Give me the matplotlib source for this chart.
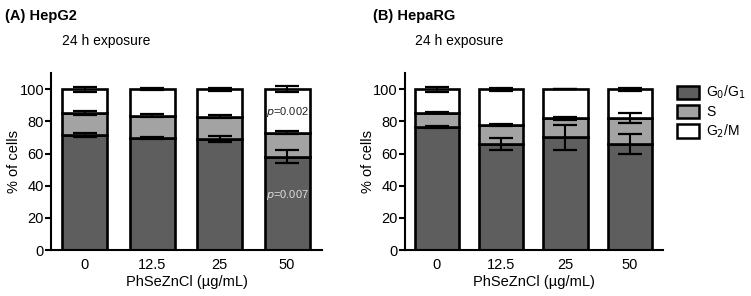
import numpy as np
import matplotlib.pyplot as plt
from matplotlib.patches import Patch

plt.rcParams['font.family'] = ['Liberation Sans', 'DejaVu Sans']

doses = ['0', '12.5', '25', '50']

# HepG2 (% of cells)
g0_a = [71.5, 69.8, 69.2, 58.0]
s_a = [13.7, 13.7, 13.8, 15.0]
g2_a = [14.8, 16.5, 17.0, 27.0]
g0_err_a = [1.0, 0.6, 2.0, 4.0]
s_err_a = [1.0, 0.8, 0.8, 1.0]
g2_err_a = [1.5, 0.8, 1.0, 2.0]

# HepaRG (% of cells)
g0_b = [76.5, 65.9, 70.0, 65.9]
s_b = [9.0, 12.0, 12.0, 16.1]
g2_b = [14.5, 22.1, 18.0, 18.0]
g0_err_b = [0.5, 3.8, 7.6, 6.0]
s_err_b = [0.3, 0.5, 1.0, 3.0]
g2_err_b = [1.5, 1.0, 0.0, 1.0]

c_g0 = '#5e5e5e'
c_s = '#a3a3a3'
c_g2 = '#ffffff'

fig = plt.figure(figsize=(7.51, 2.96), dpi=100)
ax_a = fig.add_axes([0.068, 0.155, 0.361, 0.598])
ax_b = fig.add_axes([0.539, 0.155, 0.344, 0.598])


def draw_panel(ax, g0, s, g2, e0, es, e2, width):
    x = np.arange(len(doses))
    g0 = np.array(g0)
    s = np.array(s)
    g2 = np.array(g2)
    kw = dict(width=width, edgecolor='black', linewidth=1.9, zorder=2)
    ax.bar(x, g0, color=c_g0, **kw)
    ax.bar(x, s, bottom=g0, color=c_s, **kw)
    ax.bar(x, g2, bottom=g0 + s, color=c_g2, **kw)
    ekw = dict(fmt='none', ecolor='black', elinewidth=1.5, capsize=8.5,
               capthick=1.6, zorder=3)
    ax.errorbar(x, g0, yerr=e0, **ekw)
    ax.errorbar(x, g0 + s, yerr=es, **ekw)
    ax.errorbar(x, g0 + s + g2, yerr=e2, **ekw)
    ax.set_ylim(0, 110)
    ax.set_xlim(-0.5, 3.52)
    ax.set_yticks([0, 20, 40, 60, 80, 100])
    ax.set_xticks(x)
    ax.set_xticklabels(doses)
    for side in ['top', 'right']:
        ax.spines[side].set_visible(False)
    for side in ['left', 'bottom']:
        ax.spines[side].set_linewidth(1.5)
    ax.tick_params(axis='y', labelsize=10.5, width=1.5, length=4, pad=1)
    ax.tick_params(axis='x', labelsize=10.5, length=0, pad=6)
    ax.set_ylabel('% of cells', fontsize=10.5, labelpad=-1)
    ax.set_xlabel('PhSeZnCl (µg/mL)', fontsize=10.5, labelpad=2)
    ax.text(0.04, 1.18, '24 h exposure', transform=ax.transAxes,
            fontsize=10, va='center', ha='left')


draw_panel(ax_a, g0_a, s_a, g2_a, g0_err_a, s_err_a, g2_err_a, 0.67)
draw_panel(ax_b, g0_b, s_b, g2_b, g0_err_b, s_err_b, g2_err_b, 0.69)

ax_a.text(3, 86, r'$\it{p}$=0.002', ha='center', va='center', fontsize=8,
          color='#222222', zorder=4)
ax_a.text(3, 34, r'$\it{p}$=0.007', ha='center', va='center', fontsize=8,
          color='#dddddd', zorder=4)

fig.text(0.007, 0.945, '(A) HepG2', fontsize=10.5, fontweight='bold',
         va='center', ha='left')
fig.text(0.497, 0.945, '(B) HepaRG', fontsize=10.5, fontweight='bold',
         va='center', ha='left')

handles = [Patch(facecolor=c_g0, edgecolor='black', linewidth=1.8),
           Patch(facecolor=c_s, edgecolor='black', linewidth=1.8),
           Patch(facecolor=c_g2, edgecolor='black', linewidth=1.8)]
labels = [r'G$_0$/G$_1$', 'S', r'G$_2$/M']
fig.legend(handles, labels, loc='upper left', bbox_to_anchor=(0.894, 0.735),
           frameon=False, fontsize=10, handlelength=1.6, handleheight=1.1,
           handletextpad=0.5, labelspacing=0.25, borderaxespad=0)

fig.savefig('out.png', dpi=100)
